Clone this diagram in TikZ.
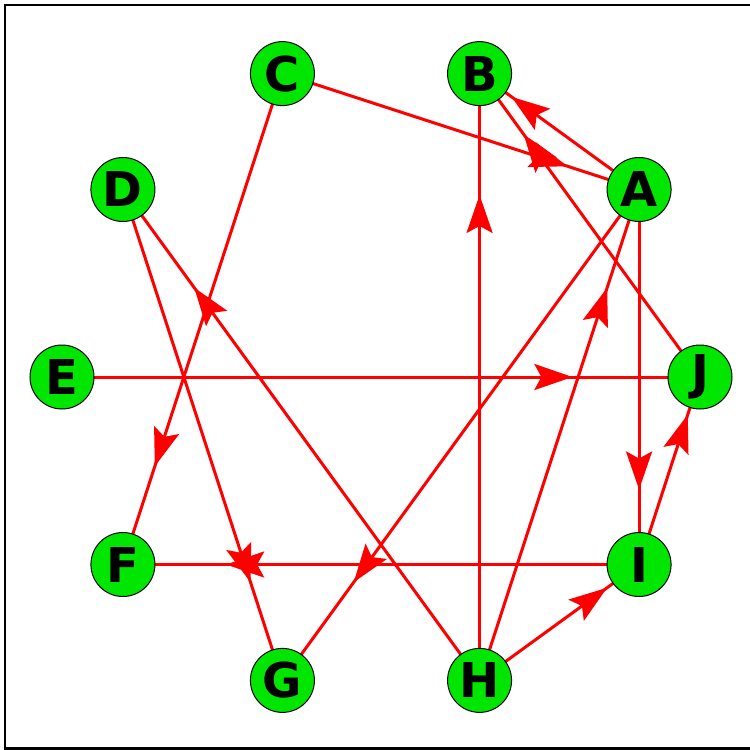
\documentclass[tikz,border=0pt]{standalone}
\usepackage{fontspec}
\setmainfont{DejaVu Sans}
\usepackage{tikz}
\usetikzlibrary{arrows.meta,decorations.markings,backgrounds}
\tikzset{>=Stealth}
\usepackage{xcolor}
\definecolor{nodegreen}{RGB}{0,230,0}

\tikzset{
  vertex/.style={circle, draw=black, line width=0.5pt, fill=nodegreen,
    minimum size=32pt, inner sep=0pt, font=\bfseries\fontsize{24}{24}\selectfont},
  link/.style={red, line width=1.5pt, postaction={decorate},
    decoration={markings, mark=at position 0.8 with
      {\arrow{Stealth[length=19pt,width=13pt,inset=3.5pt]}}}}
}

\begin{document}
\begin{tikzpicture}[x=0.5pt, y=0.5pt]
            \useasboundingbox (-381,-373) rectangle (369,377);
            \clip (-381,-373) rectangle (369,377);
            % Rahmen
            \draw[black, line width=1.2pt] (-376,-371.5) rectangle (400,372);
            % Knoten auf dem Kreis
            \foreach \name/\ang in {J/0, A/36, B/72, C/108, D/144,
                                    E/180, F/216, G/252, H/288, I/324}
              \node[vertex] (\name) at (\ang:319) {\name};
            \begin{pgfonlayer}{background}
            % Kanten
            \draw[link] (A.center) -- (B.center);
            \draw[link] (C.center) -- (A.center);
            \draw[link] (J.center) -- (B.center);
            \draw[link] (H.center) -- (B.center);
            \draw[link] (H.center) -- (A.center);
            \draw[link] (A.center) -- (G.center);
            \draw[link] (A.center) -- (I.center);
            \draw[link] (I.center) -- (J.center);
            \draw[link] (H.center) -- (I.center);
            \draw[link] (I.center) -- (F.center);
            \draw[link] (D.center) -- (G.center);
            \draw[link] (H.center) -- (D.center);
            \draw[link] (E.center) -- (J.center);
            \draw[link] (C.center) -- (F.center);
            \end{pgfonlayer}
        \end{tikzpicture}
\end{document}
